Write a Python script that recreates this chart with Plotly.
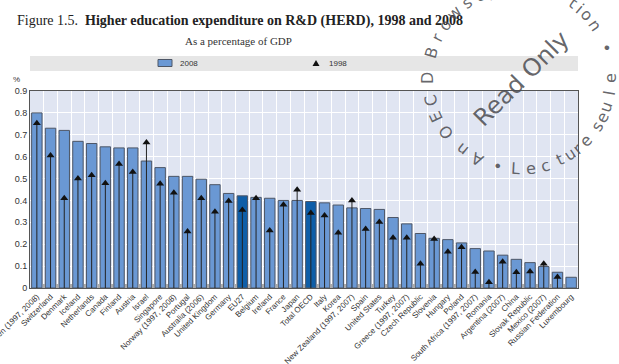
import math
import plotly.graph_objects as go

countries = [
    "Sweden (1997, 2008)", "Switzerland", "Denmark", "Iceland", "Netherlands",
    "Canada", "Finland", "Austria", "Israel", "Singapore",
    "Norway (1997, 2008)", "Portugal", "Australia (2006)", "United Kingdom", "Germany",
    "EU27", "Belgium", "Ireland", "France", "Japan",
    "Total OECD", "Italy", "Korea", "New Zealand (1997, 2007)", "Spain",
    "United States", "Turkey", "Greece (1997, 2007)", "Czech Republic", "Slovenia",
    "Hungary", "Poland", "South Africa (1997, 2007)", "Romania", "Argentina (2007)",
    "China", "Slovak Republic", "Mexico (2007)", "Russian Federation", "Luxembourg",
]
herd_2008 = [
    0.80, 0.73, 0.72, 0.67, 0.66,
    0.645, 0.64, 0.64, 0.58, 0.55,
    0.51, 0.51, 0.497, 0.472, 0.432,
    0.421, 0.414, 0.41, 0.40, 0.40,
    0.395, 0.389, 0.379, 0.366, 0.363,
    0.359, 0.322, 0.293, 0.249, 0.227,
    0.221, 0.206, 0.18, 0.169, 0.15,
    0.131, 0.116, 0.098, 0.072, 0.049,
]
herd_1998 = [
    0.753, 0.605, 0.41, 0.50, 0.515,
    0.478, 0.566, 0.53, 0.665, 0.476,
    0.435, 0.258, 0.41, 0.348, 0.398,
    0.356, 0.41, 0.263, 0.38, 0.449,
    0.343, 0.331, 0.252, 0.40, 0.269,
    0.302, 0.229, 0.229, 0.111, 0.224,
    0.166, 0.186, 0.073, 0.026, 0.12,
    0.072, 0.075, 0.111, 0.05, None,
]
highlighted = ["EU27", "Total OECD"]
y_ticks = [0, 0.1, 0.2, 0.3, 0.4, 0.5, 0.6, 0.7, 0.8, 0.9]

W, H = 619, 364
L, R, T, B = 30, 578, 91, 288
LIGHT = "#6a98d4"
DARK = "#0e5ea8"
EDGE = "#4d5666"


def px(x):
    return (x - L) / (R - L)


def py(y):
    return (B - y) / (B - T)


bar_colors = [DARK if c in highlighted else LIGHT for c in countries]

fig = go.Figure()
fig.add_trace(go.Bar(
    x=countries, y=herd_2008, name="2008", width=0.76,
    marker=dict(color=bar_colors, line=dict(color=EDGE, width=1)),
    showlegend=False,
))
fig.add_trace(go.Scatter(
    x=countries, y=herd_1998, name="1998", mode="markers",
    marker=dict(symbol="triangle-up", size=7, color="#111111"),
    error_y=dict(type="data", symmetric=False,
                 array=[0] * len(countries),
                 arrayminus=[v if v is not None else 0 for v in herd_1998],
                 color="#222222", thickness=1, width=0),
    showlegend=False,
))

sans = "Liberation Sans, Arial, sans-serif"
serif = "Liberation Serif, Times New Roman, serif"

shapes = [
    dict(type="rect", xref="paper", yref="paper", x0=px(30), x1=px(578),
         y0=py(71), y1=py(56), fillcolor="#e6e6e6", line=dict(width=0), layer="below"),
    dict(type="rect", xref="paper", yref="paper", x0=px(158), x1=px(172),
         y0=py(66.5), y1=py(59.5), fillcolor=LIGHT, line=dict(color=EDGE, width=1)),
    dict(type="path", xref="paper", yref="paper",
         path=f"M {px(312.5)},{py(66)} L {px(319.5)},{py(66)} L {px(316)},{py(60)} Z",
         fillcolor="#111111", line=dict(width=0)),
]

annotations = [
    dict(text="Figure 1.5.  <b>Higher education expenditure on R&amp;D (HERD), 1998 and 2008</b>",
         xref="paper", yref="paper", x=px(15), y=py(21), xanchor="left", yanchor="middle",
         showarrow=False, font=dict(family=serif, size=14, color="#222222")),
    dict(text="As a percentage of GDP", xref="paper", yref="paper", x=px(238), y=py(41),
         xanchor="center", yanchor="middle", showarrow=False,
         font=dict(family=serif, size=11, color="#333333")),
    dict(text="2008", xref="paper", yref="paper", x=px(178), y=py(63), xanchor="left",
         yanchor="middle", showarrow=False, font=dict(family=sans, size=8, color="#333333")),
    dict(text="1998", xref="paper", yref="paper", x=px(327), y=py(63), xanchor="left",
         yanchor="middle", showarrow=False, font=dict(family=sans, size=8, color="#333333")),
    dict(text="%", xref="paper", yref="paper", x=px(16), y=py(79), xanchor="center",
         yanchor="middle", showarrow=False, font=dict(family=sans, size=8, color="#333333")),
]

# watermark stamp
CX, CY, RAD = 520, 78, 92
wm_color = "rgba(75,75,80,0.85)"
wm_font = "DejaVu Sans, sans-serif"
outer = [("A", 118), ("n", 129), ("O", 144), ("E", 155), ("C", 166), ("D", 180),
         ("B", 196), ("r", 206), ("o", 215), ("w", 225), ("s", 235), ("e", 244),
         ("_", 252), ("i", 259), ("t", 265), ("E", 277), ("d", 287), ("i", 295),
         ("t", 305), ("i", 310.5), ("o", 316.5), ("n", 325), ("•", 341)]
inner = [("•", 104), ("L", 93), ("e", 83), ("c", 73.5), ("t", 64), ("u", 57),
         ("r", 50.5), ("e", 43.5), ("s", 32), ("e", 25.5), ("u", 18.5), ("l", 10), ("e", 0)]
for ch, ang in outer:
    a = math.radians(ang)
    annotations.append(dict(text=ch, xref="paper", yref="paper",
                            x=px(CX + RAD * math.cos(a)), y=py(CY + RAD * math.sin(a)),
                            xanchor="center", yanchor="middle", showarrow=False,
                            textangle=ang + 90, font=dict(family=wm_font, size=16, color=wm_color)))
for ch, ang in inner:
    a = math.radians(ang)
    annotations.append(dict(text=ch, xref="paper", yref="paper",
                            x=px(CX + (RAD - 1) * math.cos(a)), y=py(CY + (RAD - 1) * math.sin(a)),
                            xanchor="center", yanchor="middle", showarrow=False,
                            textangle=ang - 90, font=dict(family=wm_font, size=16, color=wm_color)))
annotations.append(dict(text="Read Only", xref="paper", yref="paper", x=px(521), y=py(79),
                        xanchor="center", yanchor="middle", showarrow=False, textangle=-45,
                        font=dict(family=wm_font, size=24, color=wm_color)))

fig.update_layout(
    template="none",
    width=W, height=H,
    margin=dict(l=L, r=W - R, t=T, b=H - B, pad=0),
    paper_bgcolor="white",
    plot_bgcolor="#e0e5f2",
    showlegend=False,
    shapes=shapes,
    annotations=annotations,
    xaxis=dict(
        type="category", range=[-0.5, len(countries) - 0.5], tickson="boundaries",
        ticks="inside", ticklen=4, tickwidth=2, tickcolor="#aaaaaa",
        showgrid=True, gridcolor="white", gridwidth=1,
        showline=True, mirror=True, linecolor="#555555", linewidth=1,
        tickangle=-45, tickfont=dict(family=sans, size=8, color="#333333"),
        automargin=False, zeroline=False,
    ),
    yaxis=dict(
        range=[0, 0.9], tickvals=y_ticks, ticktext=[f"{v:g}" for v in y_ticks],
        showgrid=True, gridcolor="white", gridwidth=1, zeroline=False,
        showline=True, mirror=True, linecolor="#555555", linewidth=1,
        ticks="", tickfont=dict(family=sans, size=9, color="#333333"),
        automargin=False,
    ),
)

fig.write_html("out.html")
